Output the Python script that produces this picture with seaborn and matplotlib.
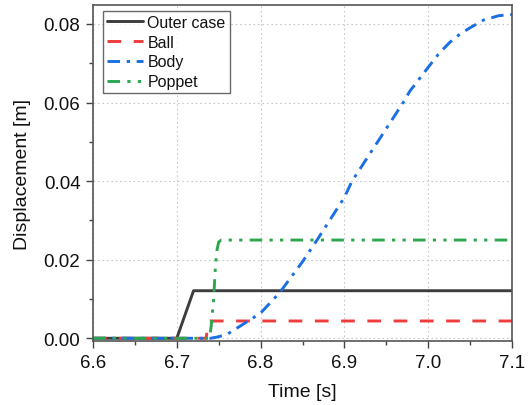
import matplotlib
matplotlib.use("Agg")
import matplotlib.pyplot as plt
from matplotlib.ticker import MultipleLocator, FormatStrFormatter
import pandas as pd
import seaborn as sns

# Displacement histories of the valve components
outer_t = [6.60, 6.700, 6.720, 7.10]
outer_d = [0.0, 0.0, 0.0121, 0.0121]

ball_t = [6.60, 6.735, 6.737, 6.739, 7.10]
ball_d = [0.0, 0.0, 0.0030, 0.0044, 0.0044]

body_t = [6.60, 6.740, 6.748, 6.760, 6.783, 6.800, 6.823, 6.850, 6.867,
          6.900, 6.909, 6.950, 6.970, 6.978, 7.000, 7.012, 7.025, 7.037,
          7.048, 7.066, 7.084, 7.100]
body_d = [0.0, 0.0, 0.0003, 0.0010, 0.0041, 0.0064, 0.0117, 0.0195, 0.0249,
          0.0359, 0.0400, 0.0534, 0.0600, 0.0629, 0.0690, 0.0723, 0.0752, 0.0773,
          0.0788, 0.0810, 0.0821, 0.0824]

poppet_t = [6.60, 6.739, 6.741, 6.744, 6.746, 6.748, 6.750, 6.753, 7.10]
poppet_d = [0.0, 0.0, 0.0030, 0.0100, 0.0180, 0.0225, 0.0245, 0.0250, 0.0250]

series = [
    ("Outer case", outer_t, outer_d, "#3d3d3d", "-"),
    ("Ball", ball_t, ball_d, "#f03c3c", (0, (4.7, 4.3))),
    ("Body", body_t, body_d, "#1a6fe3", (0, (4.3, 2.3, 1.1, 2.3))),
    ("Poppet", poppet_t, poppet_d, "#2ea64f", (0, (4.3, 2.5, 1.1, 2.5, 1.1, 2.5))),
]

sns.set_theme(style="ticks")
plt.rcParams["font.family"] = ["Liberation Sans", "DejaVu Sans"]

fig = plt.figure(figsize=(5.28, 4.06), dpi=100)
ax = fig.add_axes([0.176, 0.157, 0.794, 0.828])

for name, t, d, color, ls in series:
    df = pd.DataFrame({"Time": t, "Displacement": d})
    sns.lineplot(data=df, x="Time", y="Displacement", ax=ax, color=color,
                 linestyle=ls, linewidth=2.1, label=name,
                 estimator=None, sort=False)

ax.set_xlim(6.6, 7.1)
ax.set_ylim(-0.00076, 0.0848)
ax.xaxis.set_major_locator(MultipleLocator(0.1))
ax.xaxis.set_minor_locator(MultipleLocator(0.05))
ax.yaxis.set_major_locator(MultipleLocator(0.02))
ax.yaxis.set_minor_locator(MultipleLocator(0.01))
ax.xaxis.set_major_formatter(FormatStrFormatter("%.1f"))
ax.yaxis.set_major_formatter(FormatStrFormatter("%.2f"))

ax.grid(True, which="major", linestyle=(0, (1.5, 2.5)), color="#c8c8c8", linewidth=0.8)
ax.set_axisbelow(True)

ax.tick_params(which="major", direction="out", length=5, width=1.0,
               color="#444444", labelsize=13.5, labelcolor="#111111", pad=4)
ax.tick_params(which="minor", direction="out", length=3, width=1.0, color="#444444")
for s in ax.spines.values():
    s.set_visible(True)
    s.set_color("#555555")
    s.set_linewidth(1.2)

ax.set_xlabel("Time [s]", fontsize=14, color="#111111", labelpad=9)
ax.set_ylabel("Displacement [m]", fontsize=14, color="#111111", labelpad=9)

leg = ax.legend(loc="upper left", bbox_to_anchor=(0.023, 0.983), fontsize=11.5,
                frameon=True, fancybox=False, edgecolor="#444444",
                handlelength=2.3, handletextpad=0.25, labelspacing=0.3,
                borderpad=0.25, borderaxespad=0.0)
leg.get_frame().set_linewidth(1.0)
for txt in leg.get_texts():
    txt.set_color("#111111")

fig.savefig("out.png", dpi=100)
